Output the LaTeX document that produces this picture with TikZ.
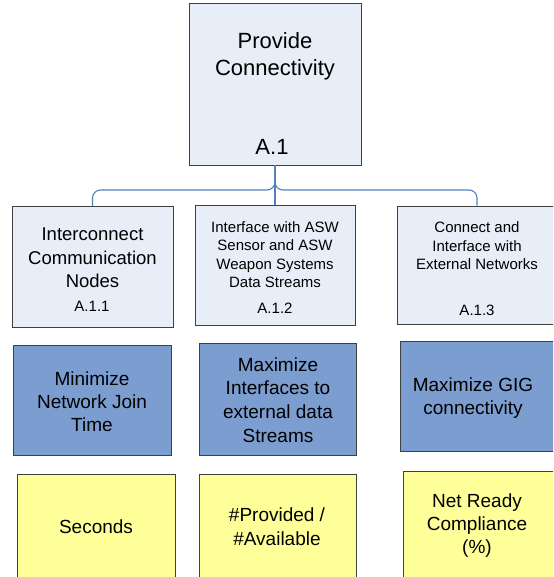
\documentclass[tikz,border=0pt]{standalone}
\usepackage{fontspec}
\setmainfont{Liberation Sans}
\usepackage{tikz}
\usetikzlibrary{positioning, calc}
\definecolor{capblue}{RGB}{232, 238, 247}
\definecolor{goalblue}{RGB}{123, 157, 208}
\definecolor{measyellow}{RGB}{255, 255, 153}
\definecolor{linkblue}{RGB}{79, 129, 189}
\definecolor{edgegray}{RGB}{64, 64, 64}

\begin{document}
\begin{tikzpicture}[
  x=1pt, y=-1pt,
  capbox/.style={rectangle, draw=edgegray, line width=0.9pt, fill=capblue, inner sep=0pt},
  goalbox/.style={rectangle, draw=edgegray, line width=0.9pt, fill=goalblue, inner sep=0pt},
  measbox/.style={rectangle, draw=edgegray, line width=0.9pt, fill=measyellow, inner sep=0pt},
  txt/.style={align=center, inner sep=0pt},
  link/.style={draw=linkblue, line width=1.1pt, rounded corners=8pt}
]
\clip (0,0) rectangle (553,577);

% Level 1: capability
\node[capbox, minimum width=172, minimum height=162] (a1) at (275,84) {};
\node[txt, font=\fontsize{22}{27}\selectfont] (a1t) at (275,56.5) {Provide\\Connectivity};
\node[txt, font=\fontsize{22}{27}\selectfont] (a1c) at (272,147) {A.1};

% Level 2: sub-capabilities
\node[capbox, minimum width=161, minimum height=121] (a11) at (92.5,267) {};
\node[capbox, minimum width=160, minimum height=120] (a12) at (275,265) {};
\node[capbox, minimum width=160, minimum height=118] (a13) at (477,265) {};

\node[txt, font=\fontsize{18.5}{23.5}\selectfont] (a11t) at (92.5,258) {Interconnect\\Communication\\Nodes};
\node[txt, font=\fontsize{15}{18.4}\selectfont] (a12t) at (275,254.5) {Interface with ASW\\Sensor and ASW\\Weapon Systems\\Data Streams};
\node[txt, font=\fontsize{15}{18.4}\selectfont] (a13t) at (477,246) {Connect and\\Interface with\\External Networks};
\node[txt, font=\fontsize{15}{18}\selectfont] (a11c) at (92,306.5) {A.1.1};
\node[txt, font=\fontsize{15}{18}\selectfont] (a12c) at (275,308.5) {A.1.2};
\node[txt, font=\fontsize{15}{18}\selectfont] (a13c) at (477,310.5) {A.1.3};

% Tree connectors
\coordinate (bus) at (275,190);
\draw[link] (a1.south) -- (bus) -| (a11.north);
\draw[link] (a1.south) -- (bus) -| (a13.north);
\draw[link, rounded corners=0pt] (a1.south) -- (a12.north);

% Level 3: goals
\node[goalbox, minimum width=158, minimum height=110] (g1) at (92,400.5) {};
\node[goalbox, minimum width=157, minimum height=112] (g2) at (277.5,399) {};
\node[goalbox, minimum width=160, minimum height=110] (g3) at (480,396) {};

\node[txt, font=\fontsize{19}{23.2}\selectfont] (g1t) at (92,401.5) {Minimize\\Network Join\\Time};
\node[txt, font=\fontsize{19}{23.7}\selectfont] (g2t) at (278,400) {Maximize\\Interfaces to\\external data\\Streams};
\node[txt, font=\fontsize{19}{23}\selectfont] (g3t) at (473,398.5) {Maximize GIG\\connectivity};

% Level 4: measures
\node[measbox, minimum width=158, minimum height=110] (m1) at (96,529) {};
\node[measbox, minimum width=157, minimum height=110] (m2) at (277.5,529) {};
\node[measbox, minimum width=160, minimum height=114] (m3) at (483,528) {};

\node[txt, font=\fontsize{19}{23.5}\selectfont] (m1t) at (96,526.5) {Seconds};
\node[txt, font=\fontsize{19}{24}\selectfont] (m2t) at (277,526.5) {\#Provided /\\\#Available};
\node[txt, font=\fontsize{19}{23}\selectfont] (m3t) at (477,526) {Net Ready\\Compliance\\(\%)};

\end{tikzpicture}
\end{document}
